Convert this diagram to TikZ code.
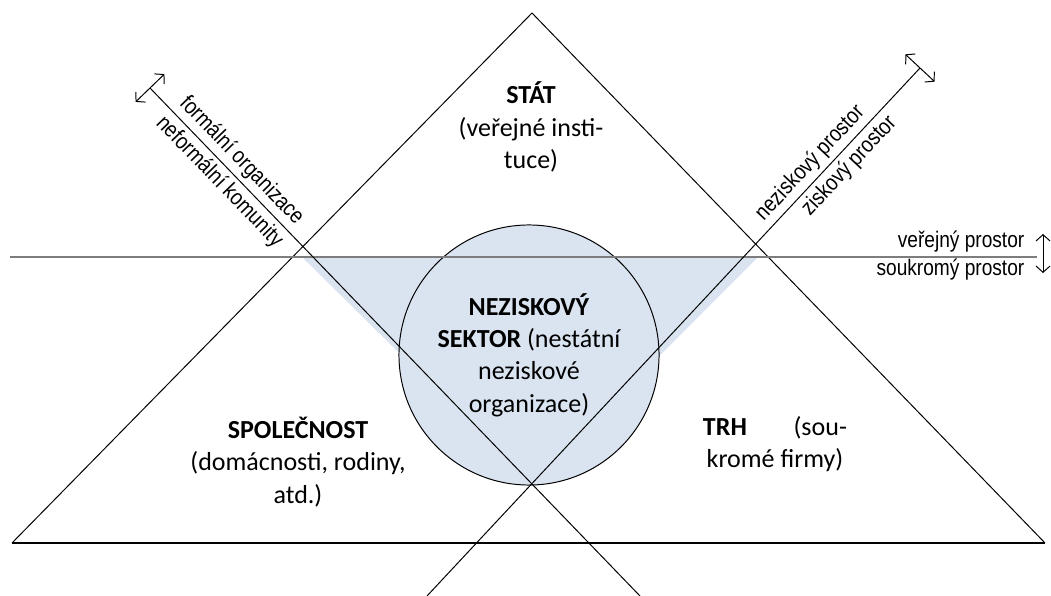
\documentclass[tikz,border=0pt]{standalone}
\usepackage{fontspec}
\setmainfont{Carlito}
\newfontfamily\axisfont[FakeStretch=0.85]{Liberation Sans}
\usetikzlibrary{calc,arrows.meta}

\definecolor{sectorblue}{RGB}{218,227,240}
\definecolor{axisgray}{RGB}{125,125,125}

\tikzset{
	sectortext/.style={align=flush center, inner sep=0pt, font=\fontsize{18.5}{23}\selectfont},
	axislabel/.style={inner sep=3pt, font=\axisfont\fontsize{16}{18}\selectfont},
	dblarrow/.style={{Straight Barb[length=4.5pt,width=10pt]}-{Straight Barb[length=4.5pt,width=10pt]}},
}

\begin{document}
\begin{tikzpicture}[x=0.025cm, y=-0.025cm, line width=0.7pt]
	\useasboundingbox (0,0) rectangle (1051,596);

	% corner points
	\coordinate (top) at (532,13);
	\coordinate (bl) at (12,543);
	\coordinate (br) at (1045,543);
	\coordinate (cross) at (532,484);
	\coordinate (lend) at (150,88);
	\coordinate (lfoot) at (640,596);
	\coordinate (rend) at (920,68);
	\coordinate (rfoot) at (427,596);
	\coordinate (hl) at (10,257);
	\coordinate (hr) at (1037,257);
	\coordinate (vu) at (1043,234);
	\coordinate (vd) at (1043,273);

	% blue sector
	\fill[sectorblue] (303,258) -- (757,258) -- (cross) -- cycle;
	\node (sector) [circle, draw, fill=sectorblue, minimum size=6.5cm, inner sep=0pt, sectortext] at (529,355)
		{\textbf{NEZISKOVÝ}\\ \textbf{SEKTOR} (nestátní\\ neziskové\\ organizace)};

	\draw (bl) -- (top) -- (br);
	\draw[line width=1pt] (bl) -- (br);
	\draw[axisgray, line width=1.3pt] (hl) -- (hr);
	\draw[dblarrow] (vu) -- (vd);

	\draw (lend) -- node[axislabel, sloped, above, pos=0.164] {formální organizace}
		node[axislabel, sloped, below, pos=0.164] {neformální komunity} (lfoot);
	\draw (rfoot) -- node[axislabel, sloped, above, pos=0.80] {neziskový prostor}
		node[axislabel, sloped, below, pos=0.834] {ziskový prostor} (rend);
	\draw[dblarrow] ($(lend)!0.5cm!90:(cross)$) -- ($(lend)!0.5cm!-90:(cross)$);
	\draw[dblarrow] ($(rend)!0.5cm!90:(cross)$) -- ($(rend)!0.5cm!-90:(cross)$);

	\node (public) [axislabel, anchor=base east] at (1029,248) {veřejný prostor};
	\node (private) [axislabel, anchor=base east] at (1029,276) {soukromý prostor};

	% the three sectors
	\node (state) [sectortext] at (531,127) {\textbf{STÁT}\\ (veřejné insti-\\ tuce)};
	\node (society) [sectortext] at (298,462) {\textbf{SPOLEČNOST}\\ (domácnosti, rodiny,\\ atd.)};
	\node (market) [sectortext, text width=3.6cm] at (775,444) {\textbf{TRH}\hfill(sou-\\ kromé firmy)};
\end{tikzpicture}
\end{document}
